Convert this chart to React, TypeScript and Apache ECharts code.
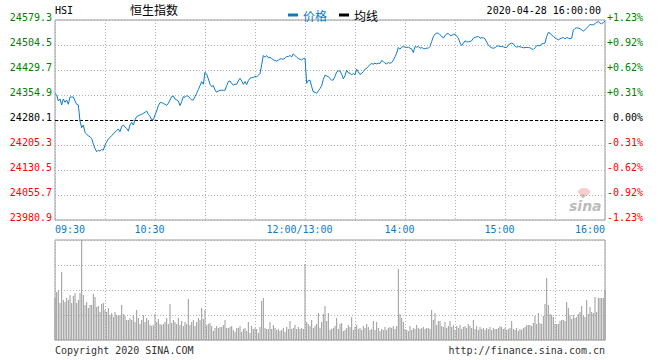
import React, { useEffect, useRef } from 'react';
import * as echarts from 'echarts';

const PREV_CLOSE = 24280.1;
const Y_HALF_RANGE = 299.2;
const Y_STEP = 74.8;

const TICK_INDEX = [0, 60, 150, 210, 270, 330];
const TICK_LABELS = ['09:30', '10:30', '12:00/13:00', '14:00', '15:00', '16:00'];

const PRICES = [
  24359, 24355, 24337, 24343, 24325, 24343, 24333, 24340, 24327, 24349,
  24349, 24349, 24337, 24327, 24325, 24277, 24257, 24265, 24243, 24237,
  24233, 24230, 24225, 24208, 24195, 24185, 24190, 24187, 24192, 24190,
  24205, 24215, 24223, 24228, 24233, 24239, 24243, 24249, 24253, 24245,
  24261, 24265, 24259, 24255, 24247, 24265, 24273, 24265, 24281, 24290,
  24293, 24295, 24297, 24300, 24303, 24307, 24297, 24291, 24281, 24281,
  24295, 24308, 24323, 24332, 24332, 24330, 24327, 24324, 24330, 24340,
  24350, 24352, 24343, 24340, 24337, 24323, 24335, 24350, 24348, 24353,
  24351, 24345, 24340, 24340, 24350, 24360, 24371, 24383, 24395, 24387,
  24423, 24417, 24403, 24387, 24380, 24383, 24370, 24363, 24367, 24369,
  24369, 24369, 24369, 24383, 24395, 24397, 24389, 24385, 24387, 24387,
  24397, 24405, 24397, 24387, 24395, 24386, 24398, 24405, 24407, 24407,
  24411, 24409, 24414, 24419, 24445, 24473, 24468, 24473, 24466, 24468,
  24464, 24460, 24458, 24456, 24459, 24463, 24463, 24462, 24465, 24470,
  24470, 24473, 24469, 24478, 24473, 24468, 24464, 24462, 24460, 24464,
  24465,
  24390, 24398, 24399, 24380, 24364, 24363, 24360, 24367, 24374, 24383,
  24402, 24414, 24412, 24410, 24404, 24399, 24400, 24411, 24424, 24427,
  24427, 24417, 24403, 24413, 24429, 24421, 24420, 24415, 24420, 24415,
  24432, 24424, 24416, 24420, 24425, 24432, 24435, 24440, 24446, 24449,
  24447, 24450, 24448, 24450, 24449, 24458, 24455, 24450, 24448, 24452,
  24450, 24452, 24459, 24469, 24480, 24497, 24492, 24498, 24500, 24498,
  24497, 24498, 24495, 24493, 24482, 24500, 24498, 24500, 24495, 24497,
  24494, 24493, 24495, 24495, 24500, 24515, 24529, 24537, 24540, 24540,
  24535, 24531, 24525, 24532, 24538, 24539, 24533, 24533, 24536, 24537,
  24531, 24525, 24511, 24503, 24510, 24517, 24514, 24514, 24515, 24517,
  24525, 24527, 24529, 24530, 24525, 24526, 24526, 24523, 24513, 24505,
  24499, 24496, 24495, 24496, 24501, 24502, 24500, 24500, 24499, 24497,
  24497, 24505, 24508, 24510, 24508, 24501, 24498, 24500, 24499, 24498,
  24496, 24497, 24497, 24497, 24496, 24493, 24491, 24496, 24502, 24503,
  24502, 24508, 24509, 24510, 24530, 24542, 24540, 24534, 24530, 24526,
  24523, 24520, 24523, 24525, 24527, 24523, 24527, 24525, 24523, 24525,
  24549, 24554, 24556, 24555, 24553, 24550, 24546, 24550, 24555, 24560,
  24566, 24565, 24565, 24568, 24573, 24574, 24570, 24568, 24572, 24576,
];

const VOLUMES = [
  42, 48, 50, 37, 68, 40, 38, 42, 40, 45,
  37, 44, 47, 37, 40, 47, 100, 45, 35, 38,
  32, 35, 35, 46, 43, 33, 34, 28, 36, 37,
  30, 28, 32, 25, 27, 23, 28, 25, 24, 25,
  35, 26, 24, 20, 20, 22, 20, 25, 18, 30,
  22, 16, 20, 25, 18, 22, 20, 15, 14, 15,
  26, 18, 21, 16, 15, 16, 18, 22, 16, 36,
  17, 20, 18, 16, 22, 15, 19, 14, 18, 16,
  41, 15, 18, 20, 14, 18, 22, 20, 32, 21,
  30, 15, 16, 17, 14, 9, 12, 14, 12, 13,
  13, 15, 20, 12, 12, 13, 14, 10, 8, 12,
  12, 14, 8, 11, 12, 9, 18, 7, 14, 11,
  12, 11, 7, 13, 39, 42, 12, 11, 11, 18,
  11, 15, 12, 10, 11, 9, 10, 12, 8, 13,
  11, 19, 11, 12, 15, 11, 13, 11, 12, 11,
  76,
  18, 16, 14, 20, 12, 14, 16, 27, 12, 18,
  26, 34, 19, 27, 10, 11, 12, 14, 22, 11,
  16, 17, 9, 10, 12, 15, 13, 23, 10, 13,
  15, 11, 12, 10, 14, 12, 16, 13, 10, 11,
  19, 10, 18, 12, 9, 11, 10, 13, 10, 12,
  13, 12, 14, 11, 14, 71, 26, 22, 18, 11,
  10, 9, 14, 10, 12, 11, 15, 12, 11, 12,
  13, 11, 12, 12, 11, 30, 20, 27, 15, 19,
  19, 14, 13, 18, 12, 14, 19, 13, 15, 10,
  14, 12, 15, 11, 13, 14, 12, 16, 14, 12,
  20, 11, 14, 10, 13, 11, 12, 10, 12, 11,
  13, 10, 12, 11, 11, 12, 14, 13, 11, 12,
  10, 11, 12, 19, 11, 10, 12, 9, 11, 10,
  12, 13, 15, 15, 15, 14, 17, 24, 16, 27,
  17, 16, 24, 36, 62, 35, 26, 25, 23, 16,
  16, 16, 19, 20, 20, 19, 38, 32, 25, 21,
  25, 22, 23, 26, 28, 34, 24, 23, 40, 26,
  33, 28, 27, 43, 28, 42, 42, 42, 42, 50,
];

const MONO = "'DejaVu Sans Mono', 'Liberation Mono', monospace";
const CJK = "'Noto Sans CJK SC', 'Noto Sans', sans-serif";
const BLUE = '#0b7bc9';
const GRID_LINE = { color: '#b4b4b4', type: [1, 2] as number[], width: 1 };

function pad2(n: number) { return n < 10 ? '0' + n : '' + n; }

const labelRich = (() => {
  const base = { fontFamily: MONO, fontSize: 10, padding: [0, 0, 6, 0] };
  return {
    g: { ...base, color: '#008000' },
    r: { ...base, color: '#ff0000' },
    k: { ...base, color: '#000000' },
  };
})();
const tag = (v: number) => (v > 0 ? 'g' : v < 0 ? 'r' : 'k');

export default function App() {
  const ref = useRef<HTMLDivElement>(null);

  useEffect(() => {
    if (!ref.current) return;
    const chart = echarts.init(ref.current, undefined, { renderer: 'svg' });

    const categories = PRICES.map((_, i) => {
      const t = TICK_INDEX.indexOf(i);
      if (t >= 0) return TICK_LABELS[t];
      const mins = i <= 150 ? 9 * 60 + 30 + i : 13 * 60 + (i - 150);
      return pad2(Math.floor(mins / 60)) + ':' + pad2(mins % 60);
    });
    const scaled = PRICES.map((p) => Math.round((p - PREV_CLOSE) * 10));
    const yMax = Math.round(Y_HALF_RANGE * 10);
    const yInt = Math.round(Y_STEP * 10);
    const isTick = (i: number) => TICK_INDEX.indexOf(i) >= 0;
    const splitEvery30 = (i: number) => i % 30 === 0;

    chart.setOption({
      animation: false,
      backgroundColor: '#ffffff',
      legend: {
        left: 283,
        top: 4,
        itemWidth: 10,
        itemHeight: 3,
        itemGap: 12,
        icon: 'rect',
        selectedMode: false,
        textStyle: { fontFamily: CJK, fontSize: 12, color: '#000' },
        data: [
          { name: '价格', textStyle: { color: BLUE } },
          { name: '均线', textStyle: { color: '#000' } },
        ],
      },
      grid: [
        { left: 55, top: 20, width: 550, height: 200, show: true, borderColor: '#999', borderWidth: 1, backgroundColor: 'transparent' },
        { left: 55, top: 240, width: 550, height: 100, show: true, borderColor: '#999', borderWidth: 1, backgroundColor: 'transparent' },
      ],
      xAxis: [
        {
          type: 'category', gridIndex: 0, data: categories, boundaryGap: false,
          axisLine: { show: false }, axisTick: { show: false },
          splitLine: { show: true, interval: (i: number) => splitEvery30(i), lineStyle: GRID_LINE },
          axisLabel: {
            interval: (i: number) => isTick(i),
            alignMinLabel: 'left', alignMaxLabel: 'right',
            margin: 4,
            formatter: (v: string, i: number) => (i === 0 || i === 330 ? `{e|${v}}` : `{m|${v}}`),
            rich: {
              e: { color: BLUE, fontFamily: MONO, fontSize: 10 },
              m: { color: BLUE, fontFamily: MONO, fontSize: 10, padding: [0, 11, 0, 0] },
            },
          },
        },
        {
          type: 'category', gridIndex: 1, data: categories, boundaryGap: false,
          axisLine: { show: false }, axisTick: { show: false }, axisLabel: { show: false },
          splitLine: { show: true, interval: (i: number) => splitEvery30(i), lineStyle: GRID_LINE },
        },
      ],
      yAxis: [
        {
          type: 'value', gridIndex: 0, position: 'left', min: -yMax, max: yMax, interval: yInt,
          axisLine: { show: false }, axisTick: { show: false },
          splitLine: { show: true, lineStyle: GRID_LINE },
          axisLabel: {
            margin: 3,
            formatter: (v: number) => `{${tag(v)}|${(PREV_CLOSE + v / 10).toFixed(1)}}`,
            rich: labelRich,
          },
        },
        {
          type: 'value', gridIndex: 0, position: 'right', min: -yMax, max: yMax, interval: yInt,
          axisLine: { show: false }, axisTick: { show: false }, splitLine: { show: false },
          axisLabel: {
            margin: 2,
            formatter: (v: number) => {
              if (v === 0) return '{k|\u00a00.00%}';
              const p = (v / 10 / PREV_CLOSE) * 100;
              return `{${tag(v)}|${(p > 0 ? '+' : '') + p.toFixed(2)}%}`;
            },
            rich: labelRich,
          },
        },
        {
          type: 'value', gridIndex: 1, min: 0, max: 100, interval: 25,
          axisLine: { show: false }, axisTick: { show: false }, axisLabel: { show: false },
          splitLine: { show: true, lineStyle: GRID_LINE },
        },
      ],
      series: [
        {
          name: '价格', type: 'line', xAxisIndex: 0, yAxisIndex: 0, data: scaled,
          showSymbol: false, symbol: 'none', color: BLUE,
          lineStyle: { color: BLUE, width: 1 },
          markLine: {
            silent: true, symbol: ['none', 'none'], label: { show: false },
            lineStyle: { color: '#000', type: [3, 2], width: 1 },
            data: [{ yAxis: 0 }],
          },
          z: 5,
        },
        {
          name: '均线', type: 'line', xAxisIndex: 0, yAxisIndex: 0, data: [],
          showSymbol: false, color: '#000', lineStyle: { color: '#000', width: 1 },
        },
        {
          name: '成交量', type: 'bar', xAxisIndex: 1, yAxisIndex: 2, data: VOLUMES,
          barWidth: 1, itemStyle: { color: '#999' },
        },
      ],
      graphic: [
        { type: 'text', left: 55, top: 5, style: { text: 'HSI', font: `10px ${MONO}`, fill: '#000' } },
        { type: 'text', left: 130, top: 3, style: { text: '恒生指数', font: `12px ${CJK}`, fill: '#000' } },
        { type: 'text', right: 59, top: 5, style: { text: '2020-04-28 16:00:00', font: `10px ${MONO}`, fill: '#000' } },
        { type: 'text', left: 55, top: 345, style: { text: 'Copyright 2020 SINA.COM', font: `10px ${MONO}`, fill: '#333' } },
        { type: 'text', right: 55, top: 345, style: { text: 'http://finance.sina.com.cn', font: `10px ${MONO}`, fill: '#333' } },
        { type: 'ellipse', shape: { cx: 584, cy: 192, rx: 6, ry: 4 }, style: { fill: 'rgba(235,90,90,0.3)' }, z: 1 },
        { type: 'circle', shape: { cx: 583, cy: 196, r: 2 }, style: { fill: 'rgba(180,180,180,0.8)' }, z: 1 },
        { type: 'text', left: 569, top: 199, style: { text: 'sina', font: `italic bold 14px 'DejaVu Sans'`, fill: 'rgba(175,175,175,0.85)' }, z: 1 },
      ],
    });

    return () => chart.dispose();
  }, []);

  return (
    <div
      ref={ref}
      style={{ position: 'fixed', left: 0, top: 0, width: 660, height: 360, background: '#fff' }}
    />
  );
}
